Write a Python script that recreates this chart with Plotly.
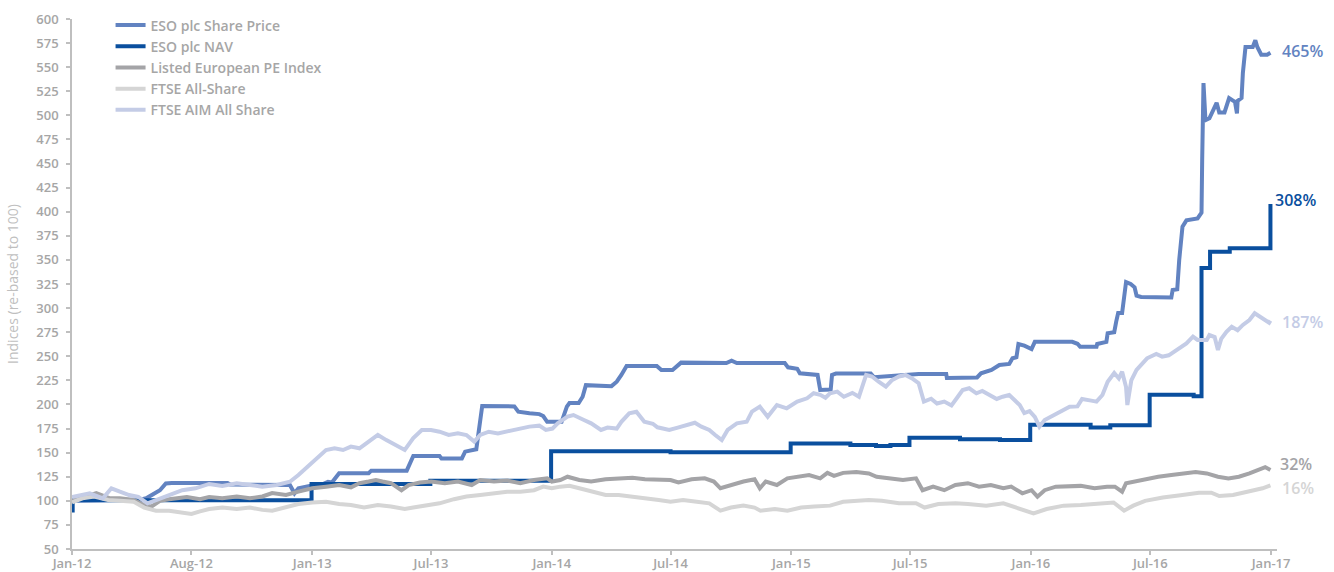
import plotly.graph_objects as go

# ---------------- data ----------------
price_dates = ["2012-01-01","2012-04-12","2012-04-23","2012-05-01","2012-05-14","2012-05-23","2012-06-01","2012-08-25","2012-08-29","2012-11-28","2012-12-02","2012-12-05","2012-12-11","2012-12-28","2013-01-14","2013-01-25","2013-01-31","2013-02-08","2013-02-11","2013-03-28","2013-04-01","2013-05-25","2013-06-01","2013-06-04","2013-07-14","2013-07-17","2013-08-17","2013-08-22","2013-09-08","2013-09-11","2013-09-14","2013-09-17","2013-11-05","2013-11-11","2013-11-28","2013-12-13","2013-12-19","2013-12-25","2014-01-16","2014-01-24","2014-01-28","2014-02-11","2014-02-17","2014-02-22","2014-04-02","2014-04-10","2014-04-17","2014-04-25","2014-06-10","2014-06-17","2014-07-04","2014-07-17","2014-09-24","2014-10-02","2014-10-10","2014-12-22","2014-12-27","2015-01-10","2015-01-14","2015-02-10","2015-02-14","2015-03-02","2015-03-04","2015-03-10","2015-05-02","2015-05-07","2015-07-14","2015-08-25","2015-08-26","2015-10-11","2015-10-17","2015-11-02","2015-11-14","2015-11-29","2015-12-04","2015-12-10","2015-12-13","2015-12-22","2016-01-02","2016-01-07","2016-03-04","2016-03-12","2016-03-16","2016-04-10","2016-04-11","2016-04-25","2016-04-27","2016-05-07","2016-05-10","2016-05-13","2016-05-19","2016-05-25","2016-06-01","2016-06-07","2016-06-10","2016-06-17","2016-08-02","2016-08-04","2016-08-11","2016-08-14","2016-08-19","2016-08-25","2016-09-11","2016-09-17","2016-09-18","2016-09-20","2016-09-23","2016-09-29","2016-10-10","2016-10-14","2016-10-22","2016-10-29","2016-11-07","2016-11-10","2016-11-11","2016-11-17","2016-11-19","2016-11-23","2016-12-04","2016-12-08","2016-12-11","2016-12-17","2016-12-26","2016-12-31"]
price_vals = [100,101,102.6,106,111,118,118.5,118.5,117,116.4,112,107.8,113,115.4,116.4,119.8,119,126.8,128.6,128.6,131.3,131.3,144,146.5,146.5,144,144,151,153.5,168,177,198.4,198,192.5,190.8,190,188,182,182,197.7,201.5,201.5,208,220,219,223.6,230.6,240,240,235.8,235.8,243.4,243,245.4,243,243,238.5,237,232.3,230.6,215,215.5,230.6,232,232,228.2,231.6,231.6,227.5,228,232.3,235.8,241,242,248,249,262.7,261,257.5,265,265,263,260,260,262.7,265,274,275,285.9,295,295,327,325,321.6,313,311.6,311,318.8,319.5,349.9,384.5,391,393,399,453.7,533.6,495,497,513,503,503,518,514,502,515,518,544,571,571,578,571,563,563,565]

nav_dates = ["2012-01-01","2012-01-02","2012-12-31","2013-06-30","2013-12-31","2014-07-01","2014-12-31","2015-04-01","2015-05-10","2015-06-01","2015-06-30","2015-09-15","2015-11-15","2015-12-31","2016-04-01","2016-05-01","2016-06-30","2016-09-05","2016-09-17","2016-09-30","2016-10-30","2016-12-31"]
nav_vals = [90,100.5,117.5,120.8,151.5,150.5,159.5,158,157,158,165.5,164,163,179,176,178.5,210,208.5,341.5,358.5,362,408]

pe_dates = ["2012-01-01","2012-01-20","2012-02-07","2012-02-28","2012-03-14","2012-04-04","2012-04-17","2012-05-01","2012-05-14","2012-05-28","2012-06-11","2012-06-24","2012-07-14","2012-07-28","2012-08-17","2012-09-08","2012-09-28","2012-10-17","2012-11-01","2012-11-22","2012-12-11","2013-01-01","2013-01-22","2013-02-11","2013-03-01","2013-03-14","2013-03-28","2013-04-08","2013-04-18","2013-05-01","2013-05-17","2013-05-28","2013-06-14","2013-07-01","2013-07-22","2013-08-11","2013-09-01","2013-09-14","2013-10-05","2013-10-25","2013-11-14","2013-12-05","2013-12-25","2014-01-01","2014-01-14","2014-01-25","2014-02-12","2014-03-02","2014-03-24","2014-04-13","2014-05-04","2014-05-23","2014-06-13","2014-07-01","2014-07-13","2014-08-02","2014-08-22","2014-09-05","2014-09-15","2014-10-01","2014-10-20","2014-11-06","2014-11-14","2014-11-23","2014-12-10","2014-12-26","2015-01-16","2015-01-28","2015-02-14","2015-02-25","2015-03-07","2015-03-21","2015-04-10","2015-04-29","2015-05-11","2015-06-01","2015-06-20","2015-07-10","2015-07-20","2015-08-05","2015-08-22","2015-09-08","2015-09-27","2015-10-14","2015-11-01","2015-11-20","2015-12-02","2015-12-19","2016-01-02","2016-01-11","2016-01-22","2016-02-08","2016-02-26","2016-03-17","2016-04-07","2016-04-26","2016-05-08","2016-05-19","2016-05-25","2016-06-05","2016-06-23","2016-07-13","2016-08-02","2016-08-22","2016-09-08","2016-09-25","2016-10-12","2016-10-28","2016-11-13","2016-11-29","2016-12-16","2016-12-23","2016-12-31"]
pe_vals = [100,104.5,108,102.6,102.6,101,96.6,94,100,101.7,102.6,104,101.7,104,102.6,104.5,102.6,104.5,108,106,109.5,113,114.7,116.4,114,118.3,120,121.6,120,118.3,111,116.4,119,120,118.3,120,116.4,121.6,120,121,118.3,121.6,123.3,120,121.6,125,121.6,120,122.4,123.3,124,122.4,121.6,121.6,119,122.4,123.3,120,113,116.4,120,122.4,113,120,116.4,123.3,125,126.8,123.3,129,125.9,129,130,128.4,125,123.3,121.6,123.3,111,114.7,111,116.4,118.3,114.7,116.4,113,114.7,107.8,111,104.3,111,114.7,114.7,115.5,113,114.7,114.7,109.5,118.3,120,122.4,125,126.8,128.4,130,128.4,125,123.3,125,128.4,133,135,132]

ftse_dates = ["2012-01-01","2012-01-17","2012-02-04","2012-02-25","2012-03-14","2012-04-04","2012-04-20","2012-05-08","2012-05-28","2012-06-17","2012-07-01","2012-07-14","2012-07-28","2012-08-17","2012-09-08","2012-09-28","2012-10-17","2012-11-01","2012-11-22","2012-12-11","2013-01-01","2013-01-22","2013-02-11","2013-03-01","2013-03-21","2013-04-11","2013-05-01","2013-05-22","2013-06-04","2013-06-25","2013-07-14","2013-08-05","2013-08-24","2013-09-14","2013-10-05","2013-10-25","2013-11-14","2013-12-05","2013-12-19","2014-01-01","2014-01-14","2014-01-28","2014-02-12","2014-03-02","2014-03-24","2014-04-13","2014-05-04","2014-05-23","2014-06-13","2014-07-01","2014-07-20","2014-08-10","2014-08-29","2014-09-15","2014-10-01","2014-10-20","2014-11-06","2014-11-15","2014-12-07","2014-12-26","2015-01-16","2015-02-05","2015-03-01","2015-03-21","2015-04-10","2015-04-29","2015-05-19","2015-06-14","2015-07-10","2015-07-23","2015-08-13","2015-09-08","2015-09-27","2015-10-25","2015-11-20","2015-12-16","2016-01-05","2016-01-25","2016-02-20","2016-03-17","2016-04-13","2016-05-06","2016-05-22","2016-06-05","2016-06-23","2016-07-20","2016-08-16","2016-09-13","2016-10-02","2016-10-14","2016-11-04","2016-11-23","2016-12-19","2016-12-31"]
ftse_vals = [98.3,102.6,104.5,100.8,100,99,93,89.8,89.8,88,86.3,89,91.5,93,91.5,93,90.6,89.8,93,96.6,98.3,99,96.6,95.7,93,95.7,94,91.5,93,95.7,97.4,101.7,104.5,106,107.8,109.5,109.5,111,114.7,113,114.7,115.5,113,109.5,106,106,104.5,102.6,100.8,99,100.8,99,97.4,89.8,93,95,93,89.8,91.5,89.8,93,94,95,99,100,100.8,100,97.4,97.4,93,96.6,97.4,96.6,95,97.4,91.5,87,91.5,95,95.7,96.6,98.3,89.8,95,100,103.5,105.7,108.4,108.4,105,106,109,113,116]

aim_dates = ["2012-01-01","2012-01-11","2012-01-28","2012-02-17","2012-03-01","2012-03-14","2012-03-28","2012-04-11","2012-04-25","2012-05-08","2012-05-28","2012-06-17","2012-07-07","2012-07-28","2012-08-17","2012-09-08","2012-09-28","2012-10-17","2012-11-08","2012-11-28","2012-12-11","2012-12-25","2013-01-08","2013-01-22","2013-02-04","2013-02-17","2013-03-01","2013-03-14","2013-03-28","2013-04-11","2013-04-24","2013-05-08","2013-05-22","2013-06-04","2013-06-17","2013-07-01","2013-07-14","2013-07-28","2013-08-11","2013-08-24","2013-09-05","2013-09-14","2013-09-27","2013-10-11","2013-11-01","2013-11-14","2013-11-28","2013-12-13","2013-12-23","2014-01-02","2014-01-10","2014-01-25","2014-02-03","2014-02-19","2014-03-02","2014-03-17","2014-03-27","2014-04-10","2014-04-17","2014-04-29","2014-05-10","2014-05-22","2014-06-04","2014-06-11","2014-06-29","2014-07-12","2014-07-25","2014-08-07","2014-08-17","2014-08-29","2014-09-07","2014-09-17","2014-09-26","2014-10-10","2014-10-25","2014-11-02","2014-11-14","2014-11-26","2014-12-10","2014-12-25","2015-01-10","2015-01-25","2015-02-04","2015-02-14","2015-02-22","2015-03-01","2015-03-12","2015-03-22","2015-04-04","2015-04-14","2015-04-25","2015-05-04","2015-05-14","2015-05-25","2015-06-03","2015-06-14","2015-06-24","2015-07-04","2015-07-14","2015-07-22","2015-08-02","2015-08-11","2015-08-22","2015-09-02","2015-09-10","2015-09-19","2015-09-29","2015-10-10","2015-10-19","2015-10-29","2015-11-10","2015-11-19","2015-11-29","2015-12-07","2015-12-15","2015-12-22","2015-12-30","2016-01-07","2016-01-14","2016-01-22","2016-02-04","2016-02-14","2016-02-29","2016-03-12","2016-03-19","2016-04-02","2016-04-10","2016-04-19","2016-04-27","2016-05-07","2016-05-14","2016-05-19","2016-05-25","2016-05-27","2016-06-02","2016-06-10","2016-06-19","2016-06-26","2016-07-10","2016-07-19","2016-07-29","2016-08-10","2016-08-25","2016-09-04","2016-09-11","2016-09-25","2016-09-29","2016-10-07","2016-10-12","2016-10-17","2016-10-25","2016-11-02","2016-11-11","2016-11-19","2016-11-29","2016-12-07","2016-12-11","2016-12-19","2016-12-29","2016-12-31"]
aim_vals = [104,105.7,107.8,102.6,113,109.5,106,104,97.4,100.8,106,111,113,117.5,115.5,118.3,116.4,114.7,116.4,119.8,126.8,135.5,144,152.7,154.5,152.7,156.2,154.5,161.4,168.3,163,158,152.7,165,173.5,173.5,171.7,168.3,170,168.3,161.4,168.3,171.7,170,173.5,175.3,177,178,173.5,175,180.4,187.3,189,183.9,180.4,173.5,176,175,182,190.8,192.5,182,180,176.3,173.5,176,178.5,181,177,173.5,168.3,163,173.5,180.4,182,192.5,197.7,187.3,199.4,196,202.9,206.4,211.6,210,207,211.6,213.3,208,212,208,230.6,229,223.6,218.4,225,229,230.6,227,222,203,206,201,203,199,206.4,215,216.8,211.6,214,209.8,205.7,208,209.8,204.6,199.4,191,193,187,177,183.9,189,192.5,197.7,198,205.7,204,202.9,209.8,223.6,232.6,227,234,218,199.4,225,235.8,242.7,247.9,252.4,249.6,251,256.5,263.4,270.3,266.9,267,272,270,256.5,268,275.5,280.7,277,282.5,287.6,294.6,293,289.4,284.9,287]

series_names = ["ESO plc Share Price", "ESO plc NAV", "Listed European PE Index", "FTSE All-Share", "FTSE AIM All Share"]
end_labels = ["465%", "308%", "32%", "16%", "187%"]

tick_dates = ["2012-01-01","2012-07-01","2013-01-01","2013-07-01","2014-01-01","2014-07-01",
              "2015-01-01","2015-07-01","2016-01-01","2016-07-01","2017-01-01"]
tick_text = ["Jan-12","Aug-12","Jan-13","Jul-13","Jan-14","Jul-14","Jan-15","Jul-15","Jan-16","Jul-16","Jan-17"]

# ---------------- styling ----------------
FONT = "Open Sans"
colors = ["#6283C1", "#0A4F9E", "#A4A4A7", "#D5D5D5", "#C4CCE6"]

fig = go.Figure()
data = [(price_dates, price_vals, "linear"),
        (nav_dates, nav_vals, "hv"),
        (pe_dates, pe_vals, "linear"),
        (ftse_dates, ftse_vals, "linear"),
        (aim_dates, aim_vals, "linear")]
for (d, v, shape), name, c in zip(data, series_names, colors):
    fig.add_trace(go.Scatter(x=d, y=v, mode="lines", name=name,
                             line=dict(color=c, width=4, shape=shape)))

# end labels
shifts = [(10, 2), (3, 4), (8, 6), (10, -3), (10, -1)]
for (d, v, _), lab, c, (xs, ys) in zip(data, end_labels, colors, shifts):
    fig.add_annotation(x=d[-1], y=v[-1], text=lab, showarrow=False,
                       xanchor="left", yanchor="middle", xshift=xs, yshift=ys,
                       font=dict(family=FONT, size=16, color=c, weight=600))

fig.update_layout(
    width=1334, height=572,
    margin=dict(l=72, r=57, t=19, b=23, autoexpand=False),
    paper_bgcolor="white", plot_bgcolor="white",
    showlegend=True,
    legend=dict(x=0.032, y=1.018, xanchor="left", yanchor="top",
                bgcolor="rgba(0,0,0,0)", tracegroupgap=0,
                font=dict(family=FONT, size=14, color="#A6A6A6", weight=600)),
    font=dict(family=FONT),
)
fig.update_xaxes(type="date", range=["2012-01-01", "2017-01-10"],
                 tickvals=tick_dates, ticktext=tick_text, automargin=False,
                 showgrid=False, zeroline=False,
                 showline=True, linecolor="#BFBFBF", linewidth=1.5,
                 ticks="outside", ticklen=4, tickcolor="#BFBFBF", tickwidth=1.5,
                 ticklabelstandoff=-2,
                 tickfont=dict(family=FONT, size=13, color="#A6A6A6", weight=600))
fig.update_yaxes(range=[50, 600], dtick=25, tick0=50, automargin=False,
                 showgrid=False, zeroline=False,
                 showline=True, linecolor="#BFBFBF", linewidth=1.5,
                 ticks="outside", ticklen=4, tickcolor="#BFBFBF", tickwidth=1.5,
                 ticklabelstandoff=5,
                 tickfont=dict(family=FONT, size=13, color="#A6A6A6", weight=600),
                 title=dict(text="Indices (re-based to 100)", standoff=14,
                            font=dict(family=FONT, size=14, color="#BFBFBF")))

fig.write_html("out.html", config={"displayModeBar": False},
               post_script="document.body.style.margin='0';")
